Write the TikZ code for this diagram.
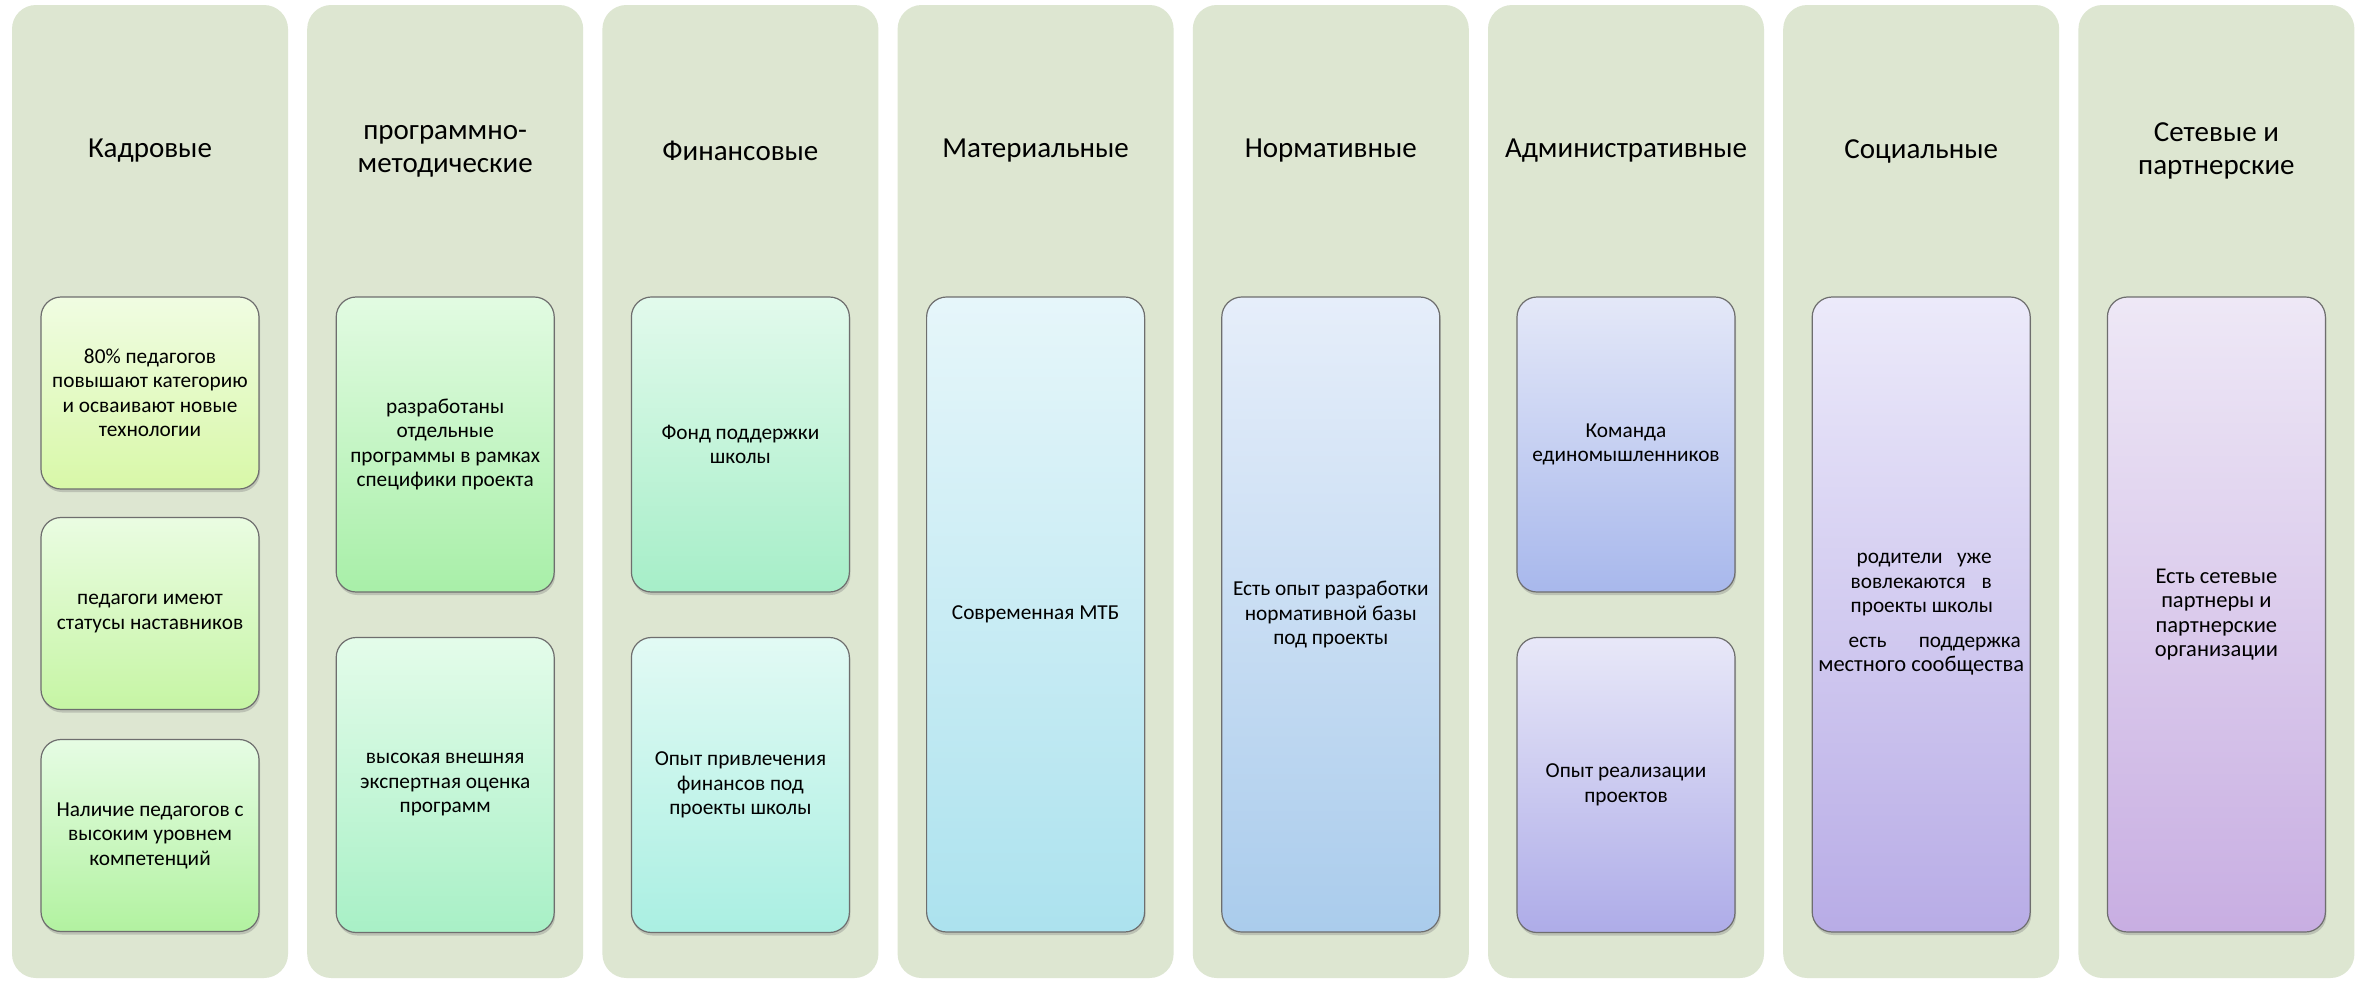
\documentclass[tikz,border=0pt]{standalone}
\usepackage{fontspec}
\setmainfont{Carlito}
\usetikzlibrary{shadows}
\definecolor{colfill}{HTML}{DDE6D1}
\definecolor{boxline}{HTML}{6E6E6E}
\definecolor{aT}{HTML}{F0FCE2}\definecolor{aB}{HTML}{D8F8A8}
\definecolor{bT}{HTML}{EAFCE2}\definecolor{bB}{HTML}{C6F5A4}
\definecolor{cT}{HTML}{E6FCE4}\definecolor{cB}{HTML}{B2F2A0}
\definecolor{dT}{HTML}{E2FBE2}\definecolor{dB}{HTML}{A8EFA8}
\definecolor{eT}{HTML}{E4FCEA}\definecolor{eB}{HTML}{A8F0C6}
\definecolor{fT}{HTML}{E2FAEC}\definecolor{fB}{HTML}{A6EEC8}
\definecolor{gT}{HTML}{E2FAF4}\definecolor{gB}{HTML}{AAEFE2}
\definecolor{hT}{HTML}{E6F6FA}\definecolor{hB}{HTML}{ACE2EE}
\definecolor{iT}{HTML}{E6EEFA}\definecolor{iB}{HTML}{AACCEC}
\definecolor{jT}{HTML}{E4E8F8}\definecolor{jB}{HTML}{A8B8EC}
\definecolor{kT}{HTML}{E8E8F8}\definecolor{kB}{HTML}{AEACE8}
\definecolor{lT}{HTML}{ECEAFA}\definecolor{lB}{HTML}{B8ACE6}
\definecolor{mT}{HTML}{EEE8F6}\definecolor{mB}{HTML}{C8AEE2}
\begin{document}
\begin{tikzpicture}[x=1pt,y=-1pt,
  colbg/.style={fill=colfill, rounded corners=24pt, minimum width=276pt, minimum height=973pt, inner sep=0pt},
  coltitle/.style={font=\fontsize{29}{33}\selectfont, align=center, text=black, inner sep=0pt},
  bx/.style={draw=boxline, line width=1.2pt, rounded corners=20pt, minimum width=218pt, inner sep=0pt, align=center, text=black,
    font=\fontsize{21.3}{24.5}\selectfont,
    drop shadow={shadow xshift=1pt, shadow yshift=-3pt, opacity=0.35}},
  h3/.style={minimum height=192pt},
  h2/.style={minimum height=295pt},
  h1/.style={minimum height=635pt},
]
\fill[white] (0,0) rectangle (2361,980);
\useasboundingbox (0,0) rectangle (2361,980);

% columns
\node[colbg] (c1) at (150,491.5) {};
\node[colbg] (c2) at (445.2,491.5) {};
\node[colbg] (c3) at (740.4,491.5) {};
\node[colbg] (c4) at (1035.6,491.5) {};
\node[colbg] (c5) at (1330.8,491.5) {};
\node[colbg] (c6) at (1626,491.5) {};
\node[colbg] (c7) at (1921.2,491.5) {};
\node[colbg] (c8) at (2216.4,491.5) {};

% titles
\node[coltitle] (t1) at (150,151) {Кадровые};
\node[coltitle] (t2) at (445.2,151) {программно-\\методические};
\node[coltitle] (t3) at (740.4,151) {Финансовые};
\node[coltitle] (t4) at (1035.6,151) {Материальные};
\node[coltitle] (t5) at (1330.8,151) {Нормативные};
\node[coltitle] (t6) at (1626,151) {Административные};
\node[coltitle] (t7) at (1921.2,151) {Социальные};
\node[coltitle] (t8) at (2216.4,151) {Сетевые и\\партнерские};

% column 1
\node[bx,h3,top color=aT,bottom color=aB] (b11) at (150,393) {80\% педагогов\\повышают категорию\\и осваивают новые\\технологии};
\node[bx,h3,top color=bT,bottom color=bB] (b12) at (150,613.5) {педагоги имеют\\статусы наставников};
\node[bx,h3,top color=cT,bottom color=cB] (b13) at (150,835.5) {Наличие педагогов с\\высоким уровнем\\компетенций};

% column 2
\node[bx,h2,top color=dT,bottom color=dB] (b21) at (445.2,444.5) {разработаны\\отдельные\\программы в рамках\\специфики проекта};
\node[bx,h2,top color=eT,bottom color=eB] (b22) at (445.2,785) {высокая внешняя\\экспертная оценка\\программ};

% column 3
\node[bx,h2,top color=fT,bottom color=fB] (b31) at (740.4,444.5) {Фонд поддержки\\школы};
\node[bx,h2,top color=gT,bottom color=gB] (b32) at (740.4,785) {Опыт привлечения\\финансов под\\проекты школы};

% column 4
\node[bx,h1,top color=hT,bottom color=hB] (b41) at (1035.6,614.5) {Современная МТБ};

% column 5
\node[bx,h1,top color=iT,bottom color=iB] (b51) at (1330.8,614.5) {Есть опыт разработки\\нормативной базы\\под проекты};

% column 6
\node[bx,h2,top color=jT,bottom color=jB] (b61) at (1626,444.5) {Команда\\единомышленников};
\node[bx,h2,top color=kT,bottom color=kB] (b62) at (1626,785) {Опыт реализации\\проектов};

% column 7
\node[bx,h1,top color=lT,bottom color=lB] (b71) at (1921.2,614.5) {%
\makebox[141pt][s]{\hspace{6pt}родители\hfill уже}\\
\makebox[141pt][s]{вовлекаются\hfill в}\\
\makebox[141pt][l]{проекты школы}\\[10pt]
\makebox[199pt][s]{\hspace{27pt}есть\hfill поддержка}\\
\makebox[199pt][c]{\fontsize{22.5}{24.5}\selectfont местного сообщества}};

% column 8
\node[bx,h1,top color=mT,bottom color=mB,font=\fontsize{22.5}{24.5}\selectfont] (b81) at (2216.4,614.5) {Есть сетевые\\партнеры и\\партнерские\\организации};
\end{tikzpicture}
\end{document}
